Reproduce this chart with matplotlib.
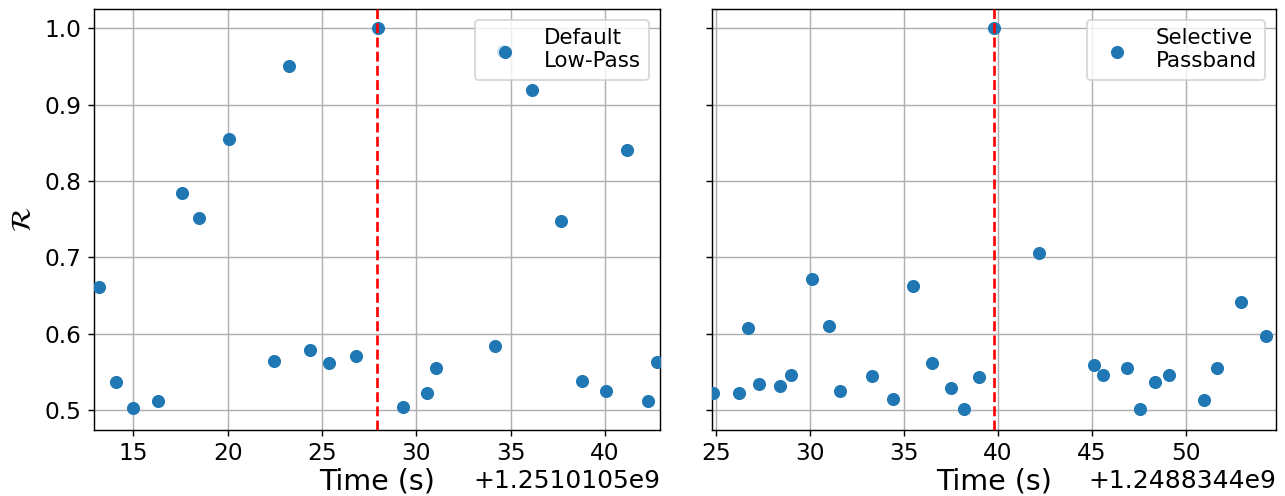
import matplotlib
matplotlib.use("Agg")
import matplotlib.pyplot as plt

# Left panel data (time offset +1.2510105e9)
left_offset = 1.2510105e9
left_t = [13.19, 14.11, 15.00, 16.29, 17.59, 18.50, 20.09, 22.48, 23.28, 24.38,
          25.38, 26.79, 27.99, 29.29, 30.58, 31.07, 34.17, 34.60, 36.16, 37.66,
          38.77, 40.04, 41.16, 42.28, 42.77]
left_r = [0.662, 0.537, 0.5035, 0.512, 0.784, 0.752, 0.855, 0.564, 0.951, 0.579,
          0.562, 0.571, 1.000, 0.505, 0.523, 0.556, 0.5845, 0.9695, 0.919, 0.748,
          0.539, 0.525, 0.8406, 0.512, 0.563]
left_event = 27.92
left_label = "Default\nLow-Pass"

# Right panel data (time offset +1.2488344e9)
right_offset = 1.2488344e9
right_t = [24.87, 26.24, 26.74, 27.33, 28.44, 29.03, 30.14, 31.03, 31.62, 33.32,
           34.43, 35.52, 36.52, 37.53, 38.22, 39.01, 39.79, 42.21, 45.11, 45.59,
           46.90, 47.59, 48.40, 49.10, 50.99, 51.69, 52.97, 54.28]
right_r = [0.5226, 0.523, 0.608, 0.5344, 0.532, 0.5462, 0.672, 0.610, 0.526, 0.5444,
           0.5144, 0.6633, 0.5623, 0.5287, 0.5013, 0.544, 1.000, 0.7064, 0.5597, 0.5462,
           0.5549, 0.5022, 0.5375, 0.5466, 0.5135, 0.5557, 0.6416, 0.5971]
right_event = 39.81
right_label = "Selective\nPassband"

window = 15.0

DPI = 128.5
W, H = 1285, 496
fig = plt.figure(figsize=(W / DPI, H / DPI), dpi=DPI)
ax_bottom_px, ax_top_px = 429.5, 9.0
ax_h = ax_bottom_px - ax_top_px
ax1 = fig.add_axes([94/W, 1 - ax_bottom_px/H, 566/W, ax_h/H])
ax2 = fig.add_axes([712/W, 1 - ax_bottom_px/H, 564/W, ax_h/H], sharey=ax1)

panels = [
    (ax1, left_offset, left_t, left_r, left_event, left_label),
    (ax2, right_offset, right_t, right_r, right_event, right_label),
]

for ax, off, t, r, ev, lab in panels:
    tt = [off + v for v in t]
    ax.scatter(tt, r, s=40, color="#1f77b4", label=lab, zorder=3)
    ax.axvline(off + ev, color="red", linestyle="--", linewidth=1.5, zorder=4)
    ax.set_xlim(off + ev - window, off + ev + window)
    ax.grid(True)
    ax.set_axisbelow(True)
    ax.tick_params(labelsize=13)
    ax.set_xlabel("Time (s)", fontsize=16, va="baseline")
    ax.xaxis.set_label_coords(0.5, -(489.5 - ax_bottom_px) / ax_h)
    ax.legend(loc="upper right", fontsize=12)

ax1.set_ylim(0.475, 1.025)
ax1.set_ylabel(r"$\mathcal{R}$", fontsize=16)
plt.setp(ax2.get_yticklabels(), visible=False)

# Place the axis offset text (from the formatter) on the x-label line
fig.canvas.draw()
for ax in (ax1, ax2):
    off_txt = ax.xaxis.get_offset_text()
    s = off_txt.get_text()
    off_txt.set_visible(False)
    ax.text(1.0, -(488.5 - ax_bottom_px) / ax_h, s, transform=ax.transAxes,
            ha="right", va="baseline", fontsize=14)

fig.savefig("out.png", dpi=DPI)
